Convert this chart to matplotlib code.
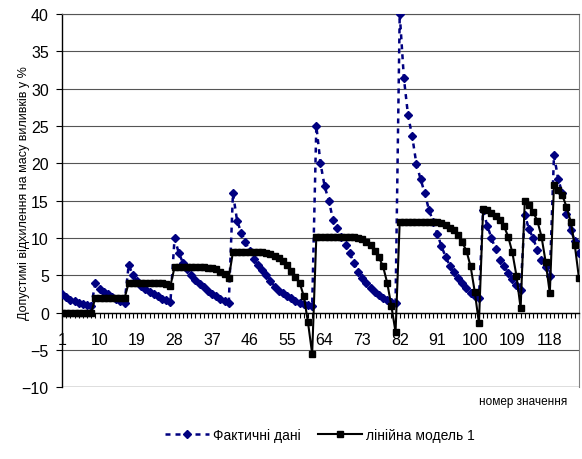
import numpy as np
import matplotlib.pyplot as plt

plt.rcParams['font.family'] = ['Liberation Sans', 'DejaVu Sans']

# фактичні дані, по відрізках
fact = [2.45, 2.05, 1.75, 1.55, 1.35, 1.15, 1.05, 0.95,
        3.95, 3.2, 2.75, 2.5, 2.15, 1.85, 1.6, 1.3,
        6.4, 5.0, 4.2, 3.6, 3.2, 2.8, 2.5, 2.2, 1.9, 1.65, 1.4,
        10.0, 8.0, 6.7, 5.8, 5.0, 4.4, 3.8, 3.4, 2.95, 2.5, 2.2, 1.85, 1.55, 1.3,
        16.0, 12.3, 10.7, 9.5, 8.2, 7.2, 6.4, 5.7, 5.05, 4.3, 3.5, 2.95, 2.64, 2.28,
        1.93, 1.61, 1.35, 1.2, 1.05, 0.9,
        25.0, 20.0, 16.9, 15.0, 12.45, 11.3, 10.1, 9.0, 8.0, 6.65, 5.5, 4.7, 3.98,
        3.27, 2.73, 2.37, 2.0, 1.7, 1.45, 1.25,
        40.0, 31.4, 26.4, 23.6, 19.9, 17.9, 16.0, 13.8, 12.2, 10.6, 8.9, 7.5, 6.3,
        5.4, 4.6, 4.0, 3.3, 2.65, 2.3, 1.95,
        13.7, 11.65, 10.0, 8.5, 7.1, 6.3, 5.3, 4.5, 3.75, 3.1,
        13.1, 11.2, 9.96, 8.4, 7.1, 6.1, 4.95,
        21.1, 17.9, 16.0, 13.2, 11.1, 9.6, 8.0]

# лінійна модель 1
model = [0, 0, 0, 0, 0, 0, 0, 0,
         2.0, 2.0, 2.0, 2.0, 2.0, 2.0, 2.0, 1.95,
         4.0, 4.0, 4.0, 4.0, 4.0, 4.0, 4.0, 4.0, 4.0, 3.9, 3.6,
         6.1, 6.1, 6.1, 6.1, 6.1, 6.1, 6.1, 6.1, 6.05, 6.0, 5.8, 5.5, 5.2, 4.7,
         8.1, 8.1, 8.1, 8.1, 8.1, 8.1, 8.1, 8.1, 8.0, 7.8, 7.6, 7.3, 6.9, 6.4,
         5.6, 4.8, 4.0, 2.2, -1.3, -5.5,
         10.2, 10.2, 10.2, 10.2, 10.2, 10.2, 10.2, 10.2, 10.2, 10.2, 10.0, 9.8,
         9.4, 9.0, 8.3, 7.4, 6.2, 4.0, 0.9, -2.6,
         12.2, 12.2, 12.2, 12.2, 12.2, 12.2, 12.2, 12.2, 12.2, 12.1, 11.95, 11.7,
         11.4, 11.1, 10.4, 9.4, 8.3, 6.2, 2.8, -1.4,
         13.9, 13.7, 13.4, 13.0, 12.4, 11.6, 10.2, 8.1, 4.95, 0.6,
         15.0, 14.4, 13.5, 12.3, 10.2, 6.8, 2.6,
         17.1, 16.4, 15.7, 14.2, 12.2, 9.0, 4.6]

x = np.arange(1, len(fact) + 1)
label_step = 9

fig = plt.figure(figsize=(5.82, 4.6), dpi=100)
ax = fig.add_axes([62/582, 1 - 388.4/460, (579 - 62)/582, (388.4 - 14.9)/460])

ax.set_xlim(1, len(fact))
ax.set_ylim(-10, 40)
ax.set_yticks(np.arange(-10, 41, 5))
ax.grid(axis='y', color='#555555', lw=0.8)
ax.axhline(-10, color='#808080', lw=1)

l1, = ax.plot(x, fact, color='#000080', lw=1.8, dashes=(2, 2),
              marker='D', ms=4.5, mec='#000080', mfc='#000080', zorder=3)
l2, = ax.plot(x, model, color='black', lw=1.5,
              marker='s', ms=4.2, mec='black', mfc='black', zorder=4)

ax.spines['bottom'].set_position(('data', 0))
ax.spines['bottom'].set_linewidth(1)
ax.spines['left'].set_linewidth(1)
ax.spines['right'].set_color('#808080')
ax.spines['top'].set_color('#555555')
ax.spines['top'].set_linewidth(0.8)

ax.set_xticks(x)
ax.set_xticklabels([str(v) if (v - 1) % label_step == 0 else '' for v in x])
ax.tick_params(axis='x', direction='out', length=3.6, width=0.8, pad=10, labelsize=11.5)
ax.tick_params(axis='y', direction='out', length=4.5, width=0.8, pad=5, labelsize=11.5)

fig.text(24/582, 1 - 193/460, 'Допустимі відхилення на масу виливків у %',
         rotation=90, ha='center', va='center', fontsize=9)
fig.text(567/582, 1 - 402/460, 'номер значення', ha='right', va='center', fontsize=8.5)

fig.legend([l1, l2], ['Фактичні дані', 'лінійна модель 1'], loc='center',
           bbox_to_anchor=(320/582, 1 - 436/460), ncol=2, frameon=False,
           fontsize=10, handlelength=3.2, handletextpad=0.3, columnspacing=1.2)

fig.savefig('out.png', dpi=100)
